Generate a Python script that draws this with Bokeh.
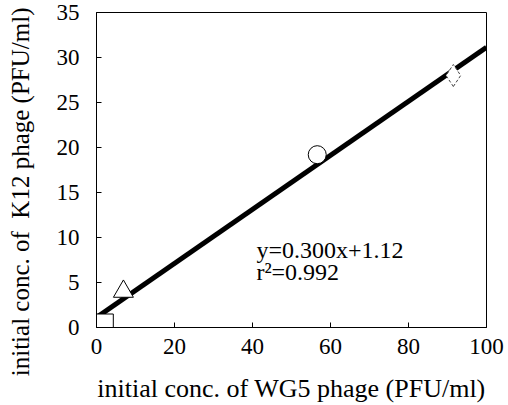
from bokeh.plotting import figure
from bokeh.models import Range1d, FixedTicker, Label
from bokeh.embed import file_html
from bokeh.resources import INLINE

wg5 = [2.0, 6.9, 56.6, 91.5]
k12 = [0.5, 4.0, 19.2, 28.0]
markers = ["square", "triangle", "circle", "diamond"]
slope, intercept = 0.300, 1.12
fit_x = [0, 100]
fit_y = [intercept + slope * v for v in fit_x]
x_ticks = [0, 20, 40, 60, 80, 100]
y_ticks = [0, 5, 10, 15, 20, 25, 30, 35]
x_title = "initial conc. of WG5 phage (PFU/ml)"
y_title = "initial conc. of\u00a0 K12 phage (PFU/ml)"

FONT = "Liberation Serif"

p = figure(width=508, height=405, output_backend="svg", toolbar_location=None,
           x_range=Range1d(0, 100), y_range=Range1d(0, 35),
           min_border_left=96, min_border_right=22, min_border_top=12, min_border_bottom=71)
p.grid.visible = False
p.outline_line_color = "black"
p.outline_line_width = 1
p.background_fill_color = "white"
p.border_fill_color = "white"

p.line(fit_x, fit_y, line_width=5, line_color="black")

for xv, yv, m in zip(wg5, k12, markers):
    if m == "diamond":
        p.scatter([xv], [yv], marker=m, size=22, fill_color="white",
                  line_color="#444444", line_width=1, line_dash="3 2")
    elif m == "triangle":
        p.scatter([xv], [yv], marker=m, size=20, fill_color="white",
                  line_color="black", line_width=1)
    else:
        p.scatter([xv], [yv], marker=m, size=18, fill_color="white",
                  line_color="black", line_width=1)

for ax in (p.xaxis[0], p.yaxis[0]):
    ax.axis_line_color = "black"
    ax.major_tick_in = 5
    ax.major_tick_out = 0
    ax.minor_tick_in = 0
    ax.minor_tick_out = 0
    ax.major_label_text_font = FONT
    ax.major_label_text_font_size = "23px"
    ax.major_label_text_color = "black"
    ax.axis_label_text_font = FONT
    ax.axis_label_text_font_size = "26px"
    ax.axis_label_text_font_style = "normal"
    ax.axis_label_text_color = "black"

p.yaxis.axis_label_text_font_size = "25px"
p.xaxis.ticker = FixedTicker(ticks=x_ticks)
p.yaxis.ticker = FixedTicker(ticks=y_ticks)
p.xaxis.axis_label = x_title
# trailing no-break spaces shift the visible title downward, as in the reference
p.yaxis.axis_label = y_title + "\u00a0" * 7
p.xaxis.major_label_standoff = 11
p.yaxis.major_label_standoff = 17
p.xaxis.axis_label_standoff = 17
p.yaxis.axis_label_standoff = 20

p.add_layout(Label(x=41, y=8.6, text="y=0.300x+1.12", text_font=FONT,
                   text_font_size="24px", text_color="black", text_baseline="middle"))
p.add_layout(Label(x=41, y=6.2, text="r²=0.992", text_font=FONT,
                   text_font_size="24px", text_color="black", text_baseline="middle"))

open("out.html", "w").write(file_html(p, INLINE))
